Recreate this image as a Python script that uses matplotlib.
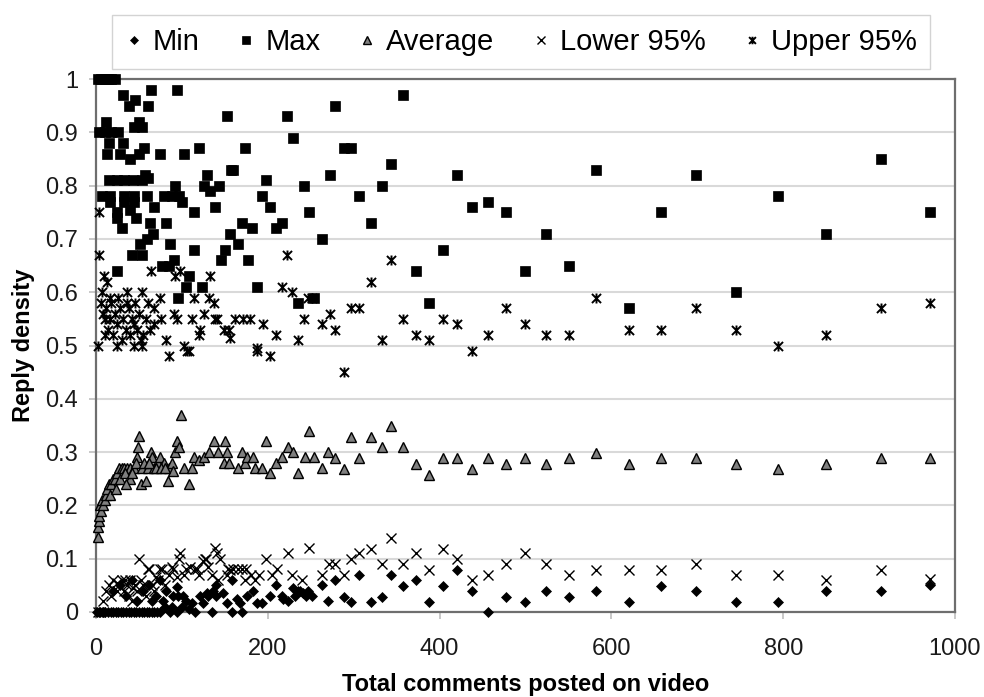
import matplotlib
matplotlib.use("Agg")
import matplotlib.pyplot as plt
from matplotlib.path import Path

plt.rcParams['font.family'] = ['Liberation Sans', 'DejaVu Sans']

# ---------------- data ----------------
min_x = [1, 3, 5, 8, 11, 14, 17, 20, 23, 26, 29, 32, 35, 38, 41, 44, 47, 50, 53, 56, 59, 62, 65, 68, 71, 74,
         86, 94, 115, 135, 158, 170,
         112, 124, 152, 168, 187, 193, 101, 130, 140, 176, 202, 216, 232, 245, 252, 183, 237, 270,
         94, 96, 121, 129, 136, 140, 148, 158, 164, 210, 218, 224, 229, 235, 241, 247, 263,
         20, 28, 35, 42, 48, 55, 62, 70, 78, 82, 88, 90, 75, 65, 100, 105, 108, 80,
         278, 289, 297, 306, 320, 333, 344, 357, 372, 388, 404, 420, 438, 456, 477, 499, 524, 551,
         582, 620, 658, 699, 745, 794, 850, 914, 971]
min_y = [0] * 26 + [0, 0, 0, 0, 0, 0,
         0.017, 0.017, 0.017, 0.017, 0.017, 0.017, 0.03, 0.03, 0.03, 0.03, 0.03, 0.03, 0.03, 0.03, 0.03,
         0.04, 0.04, 0.02,
         0.047, 0.03, 0.03, 0.035, 0.04, 0.05, 0.035, 0.06, 0.025, 0.05, 0.025, 0.02, 0.045, 0.04, 0.035,
         0.04, 0.05,
         0.04, 0.05, 0.03, 0.06, 0.02, 0.04, 0.05, 0.03, 0.02, 0.04, 0.01, 0.03, 0.06, 0.02, 0.01, 0.02,
         0.005, 0.01,
         0.06, 0.029, 0.019, 0.069, 0.019, 0.029, 0.069, 0.048, 0.06, 0.019, 0.048, 0.078, 0.04, 0.0,
         0.029, 0.019, 0.04, 0.029, 0.04, 0.019, 0.048, 0.04, 0.019, 0.019, 0.04, 0.04, 0.05]

max_x = [2, 6, 10, 14, 18, 22, 31, 64, 94, 45, 38, 61, 152, 12, 50, 4, 10, 18, 26, 44, 54,
         15, 32, 56, 120, 13, 28, 50, 74, 102, 39, 157, 57, 129,
         15, 24, 33, 43, 53, 61, 92, 126, 143, 133,
         7, 16, 33, 44, 59, 79, 88, 97, 16, 33, 44, 100, 68, 138, 114, 24, 39, 24, 46,
         63, 82, 30, 66, 156, 59, 86, 51, 114, 150, 42, 53, 91, 146, 77, 85, 24, 108, 105, 123, 96,
         222, 229, 173, 160, 198, 242, 193, 202, 248, 170, 182, 210, 217, 263, 165, 177, 187, 235, 254,
         272, 278, 289, 297, 306, 320, 333, 344, 357, 372, 388, 404, 420, 438, 456, 477, 499, 524,
         551, 582, 620, 658, 699, 745, 794, 850, 914, 971]
max_y = [1.0, 1.0, 1.0, 1.0, 1.0, 1.0, 0.97, 0.98, 0.98, 0.96, 0.95, 0.95, 0.93, 0.92, 0.92,
         0.90, 0.90, 0.90, 0.90, 0.91, 0.91,
         0.88, 0.88, 0.87, 0.87, 0.86, 0.86, 0.86, 0.86, 0.86, 0.85, 0.83, 0.82, 0.82,
         0.81, 0.81, 0.81, 0.81, 0.81, 0.815, 0.80, 0.80, 0.80, 0.79,
         0.78, 0.78, 0.78, 0.78, 0.78, 0.78, 0.78, 0.78, 0.77, 0.77, 0.77, 0.77, 0.76, 0.76, 0.75,
         0.75, 0.755, 0.74, 0.74,
         0.73, 0.73, 0.72, 0.71, 0.71, 0.70, 0.69, 0.69, 0.68, 0.68, 0.67, 0.67, 0.66, 0.66, 0.65,
         0.65, 0.64, 0.63, 0.61, 0.61, 0.59,
         0.93, 0.89, 0.87, 0.83, 0.81, 0.80, 0.78, 0.76, 0.75, 0.73, 0.72, 0.72, 0.73, 0.70, 0.69,
         0.66, 0.61, 0.58, 0.59,
         0.82, 0.95, 0.87, 0.87, 0.78, 0.73, 0.80, 0.84, 0.97, 0.64, 0.58, 0.68, 0.82, 0.76, 0.77,
         0.75, 0.64, 0.71, 0.65, 0.83, 0.57, 0.75, 0.82, 0.60, 0.78, 0.71, 0.85, 0.75]

avg_x = [2, 2, 3, 4, 5, 6, 7, 8, 10, 12, 13, 15, 18, 20, 22, 25, 27, 30, 33, 36, 39, 40, 44, 48, 49,
         50, 52, 54, 58, 60, 64, 65, 68, 72, 74, 79, 84, 85, 88, 90, 92, 94, 97, 99, 103, 108, 112,
         114, 120, 126, 131, 137, 142, 149, 150, 153, 155, 165, 170, 173, 176, 183, 185, 193, 198,
         202, 210, 216, 223, 229, 235, 243, 248, 254, 263, 270,
         16, 23, 28, 34, 42, 46, 56, 62, 70, 76, 80, 35,
         278, 289, 297, 306, 320, 333, 344, 357, 372, 388, 404, 420, 438, 456, 477, 499, 524, 551,
         582, 620, 658, 699, 745, 794, 850, 914, 971]
avg_y = [0.14, 0.16, 0.17, 0.18, 0.20, 0.19, 0.21, 0.20, 0.21, 0.22, 0.23, 0.24, 0.24, 0.25, 0.25,
         0.26, 0.27, 0.27, 0.27, 0.27, 0.25, 0.27, 0.27, 0.29, 0.31, 0.33, 0.24, 0.27, 0.245, 0.27,
         0.30, 0.29, 0.27, 0.28, 0.29, 0.28, 0.245, 0.27, 0.28, 0.265, 0.30, 0.32, 0.31, 0.37, 0.27,
         0.24, 0.27, 0.29, 0.285, 0.29, 0.30, 0.32, 0.30, 0.28, 0.32, 0.30, 0.28, 0.27, 0.30, 0.28,
         0.29, 0.29, 0.27, 0.27, 0.32, 0.26, 0.28, 0.29, 0.31, 0.30, 0.26, 0.29, 0.34, 0.29, 0.27, 0.30,
         0.22, 0.23, 0.25, 0.26, 0.26, 0.28, 0.28, 0.28, 0.27, 0.27, 0.27, 0.24,
         0.289, 0.268, 0.329, 0.289, 0.329, 0.309, 0.349, 0.309, 0.278, 0.257, 0.289, 0.289, 0.268,
         0.289, 0.278, 0.289, 0.278, 0.289, 0.298, 0.278, 0.289, 0.289, 0.278, 0.268, 0.278, 0.289,
         0.289]

low_x = [50, 98, 97, 139, 141, 128, 124, 61, 77, 88, 34, 110, 115, 120, 94, 42, 62, 74, 90, 105, 117,
         127, 144, 156, 173, 198, 211, 205, 223, 228, 240, 248, 263, 271, 142, 154, 160, 165, 170,
         175, 180, 185, 190, 152, 135, 130, 102, 85, 70,
         12, 15, 18, 20, 24, 27, 30, 33, 36, 38, 40, 45, 48, 52, 55, 58, 65, 68, 72, 80, 25, 43, 8, 5, 2,
         278, 289, 297, 306, 320, 333, 344, 357, 372, 388, 404, 420, 438, 456, 477, 499, 524, 551,
         582, 620, 658, 699, 745, 794, 850, 914, 971]
low_y = [0.10, 0.11, 0.10, 0.12, 0.11, 0.10, 0.095, 0.08, 0.08, 0.085, 0.06, 0.085, 0.08, 0.07, 0.065,
         0.02, 0.08, 0.08, 0.08, 0.08, 0.08, 0.10, 0.10, 0.078, 0.06, 0.10, 0.08, 0.07, 0.11, 0.07,
         0.06, 0.12, 0.07, 0.09, 0.06, 0.08, 0.08, 0.08, 0.08, 0.08, 0.07, 0.06, 0.07, 0.07, 0.07,
         0.085, 0.07, 0.07, 0.065,
         0.04, 0.05, 0.03, 0.06, 0.04, 0.05, 0.06, 0.04, 0.05, 0.03, 0.06, 0.05, 0.04, 0.06, 0.05,
         0.03, 0.05, 0.04, 0.06, 0.05, 0.055, 0.045, 0.02, 0.0, 0.0,
         0.09, 0.069, 0.099, 0.11, 0.119, 0.09, 0.139, 0.09, 0.11, 0.078, 0.119, 0.099, 0.06, 0.069,
         0.09, 0.11, 0.09, 0.069, 0.078, 0.078, 0.078, 0.09, 0.069, 0.069, 0.06, 0.078, 0.061]

up_x = [4, 4, 64, 98, 92, 133, 9, 13, 7, 36, 53, 74, 114, 131, 137, 68, 91, 94, 112, 126, 141, 149,
        155, 121, 68, 76, 2, 24, 44, 53, 82, 85, 102, 108, 120,
        222, 216, 228, 247, 252, 242, 263, 210, 235, 188, 179, 194, 162, 171, 138, 156, 187, 202, 106,
        6, 8, 10, 12, 14, 16, 18, 20, 22, 25, 28, 30, 32, 35, 38, 40, 42, 45, 48, 50, 55, 58, 60, 63,
        36, 26, 16, 10, 44, 52,
        272, 278, 289, 297, 306, 320, 333, 344, 357, 372, 388, 404, 420, 438, 456, 477, 499, 524,
        551, 582, 620, 658, 699, 745, 794, 850, 914, 971]
up_y = [0.75, 0.67, 0.64, 0.64, 0.63, 0.63, 0.63, 0.62, 0.60, 0.60, 0.60, 0.59, 0.59, 0.59, 0.58,
        0.57, 0.56, 0.55, 0.55, 0.56, 0.55, 0.53, 0.53, 0.53, 0.54, 0.55, 0.50, 0.50, 0.50, 0.50,
        0.51, 0.48, 0.50, 0.49, 0.52,
        0.67, 0.61, 0.60, 0.59, 0.59, 0.55, 0.54, 0.52, 0.51, 0.495, 0.55, 0.54, 0.55, 0.55, 0.55,
        0.515, 0.49, 0.48, 0.49,
        0.58, 0.56, 0.55, 0.57, 0.53, 0.55, 0.58, 0.52, 0.56, 0.54, 0.57, 0.51, 0.55, 0.53, 0.57,
        0.52, 0.55, 0.58, 0.53, 0.56, 0.52, 0.55, 0.58, 0.53,
        0.58, 0.59, 0.59, 0.52, 0.54, 0.51,
        0.56, 0.53, 0.45, 0.57, 0.57, 0.62, 0.51, 0.66, 0.55, 0.52, 0.51, 0.55, 0.54, 0.49, 0.52,
        0.57, 0.54, 0.52, 0.52, 0.59, 0.53, 0.53, 0.57, 0.53, 0.50, 0.52, 0.57, 0.58]

series_names = ["Min", "Max", "Average", "Lower 95%", "Upper 95%"]
x_ticks = [0, 200, 400, 600, 800, 1000]
y_ticks = [0, 0.1, 0.2, 0.3, 0.4, 0.5, 0.6, 0.7, 0.8, 0.9, 1]
y_tick_labels = ["0", "0.1", "0.2", "0.3", "0.4", "0.5", "0.6", "0.7", "0.8", "0.9", "1"]

# ---------------- figure ----------------
fig = plt.figure(figsize=(9.84, 6.97), dpi=100)
ax = fig.add_axes([96 / 984, 1 - 612 / 697, (955 - 96) / 984, (612 - 79) / 697])

star = Path([(-1, -1), (1, 1), (-1, 1), (1, -1), (0, -1.1), (0, 1.1)],
            [Path.MOVETO, Path.LINETO, Path.MOVETO, Path.LINETO, Path.MOVETO, Path.LINETO])

common = dict(linestyle='none', clip_on=False)
h_min, = ax.plot(min_x, min_y, marker='D', ms=5.4, mfc='black', mec='black', mew=0.5,
                 label=series_names[0], zorder=3, **common)
h_max, = ax.plot(max_x, max_y, marker='s', ms=7.2, mfc='black', mec='black', mew=0.5,
                 label=series_names[1], zorder=3, **common)
h_avg, = ax.plot(avg_x, avg_y, marker='^', ms=7.8, mfc='#7f7f7f', mec='black', mew=1.0,
                 label=series_names[2], zorder=3, **common)
h_low, = ax.plot(low_x, low_y, marker='x', ms=7.8, mec='black', mew=1.0,
                 label=series_names[3], zorder=3, **common)
h_up, = ax.plot(up_x, up_y, marker=star, ms=7.2, mec='black', mew=1.4,
                label=series_names[4], zorder=3, **common)

ax.set_xlim(0, 1000)
ax.set_ylim(0, 1)
ax.set_xticks(x_ticks)
ax.set_xticklabels([str(v) for v in x_ticks])
ax.set_yticks(y_ticks)
ax.set_yticklabels(y_tick_labels)

ax.yaxis.grid(True, color='#d9d9d9', linewidth=1.5)
ax.set_axisbelow(True)
for sp in ax.spines.values():
    sp.set_color('#6e6e6e')
    sp.set_linewidth(1.6)

ax.tick_params(axis='both', direction='out', length=5, width=1.2, color='#bfbfbf',
               labelsize=17, labelcolor='#1a1a1a')
ax.tick_params(axis='y', pad=8)
ax.tick_params(axis='x', pad=14)

ax.set_xlabel("Total comments posted on video", fontsize=17, fontweight='bold', labelpad=9)
ax.set_ylabel("Reply density", fontsize=17, fontweight='bold', labelpad=7)

leg = fig.legend(handles=[h_min, h_max, h_avg, h_low, h_up], labels=series_names,
                 loc='center', bbox_to_anchor=(521 / 984, 1 - 42 / 697), ncol=5,
                 fontsize=21, frameon=True, fancybox=False, edgecolor='#c8c8c8',
                 handlelength=0.6, handletextpad=0.35, columnspacing=1.3, borderpad=0.45,
                 markerscale=0.75)
leg.get_frame().set_linewidth(1.0)

fig.savefig("out.png", dpi=100)
